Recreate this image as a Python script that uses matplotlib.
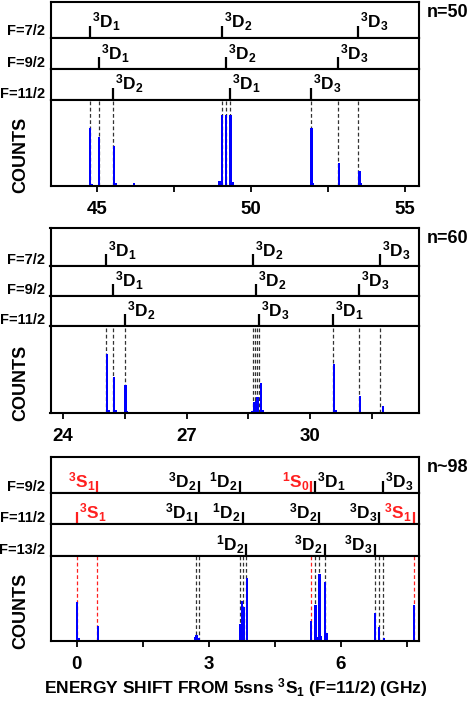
import matplotlib
matplotlib.use('Agg')
import matplotlib.pyplot as plt
from matplotlib.transforms import offset_copy

plt.rcParams['font.family'] = ['Liberation Sans', 'DejaVu Sans']
plt.rcParams['font.weight'] = 'bold'
plt.rcParams['mathtext.fontset'] = 'custom'
plt.rcParams['mathtext.bf'] = 'Liberation Sans:bold'
plt.rcParams['mathtext.rm'] = 'Liberation Sans:bold'
plt.rcParams['mathtext.it'] = 'Liberation Sans:bold'
plt.rcParams['mathtext.default'] = 'bf'

# ---------------- DATA ----------------
# n = 50
n50_rows = ['F=7/2', 'F=9/2', 'F=11/2']
n50_level_names = [['3D1', '3D2', '3D3'],
                   ['3D1', '3D2', '3D3'],
                   ['3D2', '3D1', '3D3']]
n50_level_pos = [[44.78, 49.05, 53.48],
                 [45.07, 49.18, 52.82],
                 [45.53, 49.33, 51.94]]
n50_level_side = [['r', 'r', 'r'], ['r', 'r', 'r'], ['r', 'r', 'r']]
n50_level_red = [[0, 0, 0], [0, 0, 0], [0, 0, 0]]
n50_dash_pos = [44.78, 45.07, 45.53, 49.05, 49.18, 49.33, 51.94, 52.82, 53.48]
n50_dash_red = [0, 0, 0, 0, 0, 0, 0, 0, 0]
n50_peak_pos = [44.79, 44.84, 45.08, 45.56, 45.61, 46.20, 48.98, 49.06, 49.19, 49.34, 49.41, 51.96, 52.01, 52.86, 53.52, 53.57]
n50_peak_h = [0.67, 0.02, 0.57, 0.47, 0.03, 0.03, 0.06, 0.82, 0.82, 0.82, 0.05, 0.68, 0.03, 0.27, 0.18, 0.04]
n50_major = [45, 50, 55]
n50_minor = [47.5, 52.5]
n50_xlim = (43.50, 55.45)

# n = 60
n60_rows = ['F=7/2', 'F=9/2', 'F=11/2']
n60_level_names = [['3D1', '3D2', '3D3'],
                   ['3D1', '3D2', '3D3'],
                   ['3D2', '3D3', '3D1']]
n60_level_pos = [[25.04, 28.62, 31.70],
                 [25.22, 28.69, 31.18],
                 [25.49, 28.76, 30.57]]
n60_level_side = [['r', 'r', 'r'], ['r', 'r', 'r'], ['r', 'r', 'r']]
n60_level_red = [[0, 0, 0], [0, 0, 0], [0, 0, 0]]
n60_dash_pos = [25.04, 25.22, 25.49, 28.61, 28.66, 28.71, 28.76, 30.57, 31.18, 31.70]
n60_dash_red = [0, 0, 0, 0, 0, 0, 0, 0, 0, 0]
n60_peak_pos = [25.06, 25.10, 25.24, 25.28, 25.51, 25.55, 28.60, 28.64, 28.68, 28.72, 28.81, 28.85, 30.59, 30.63, 31.21, 31.78]
n60_peak_h = [0.68, 0.03, 0.41, 0.03, 0.32, 0.02, 0.02, 0.13, 0.14, 0.18, 0.34, 0.03, 0.56, 0.03, 0.19, 0.08]
n60_major = [24, 27, 30]
n60_minor = [25.5, 28.5, 31.5]
n60_xlim = (23.69, 32.65)

# n ~ 98
n98_rows = ['F=9/2', 'F=11/2', 'F=13/2']
n98_level_names = [['3S1', '3D2', '1D2', '1S0', '3D1', '3D3'],
                   ['3S1', '3D1', '1D2', '3D2', '3D3', '3S1'],
                   ['1D2', '3D2', '3D3']]
n98_level_pos = [[0.47, 2.77, 3.70, 5.32, 5.42, 6.96],
                 [0.00, 2.70, 3.77, 5.51, 6.86, 7.65],
                 [3.85, 5.63, 6.76]]
n98_level_side = [['l', 'l', 'l', 'l', 'r', 'r'],
                  ['r', 'l', 'l', 'l', 'l', 'l'],
                  ['l', 'l', 'l']]
n98_level_red = [[1, 0, 0, 1, 0, 0],
                 [1, 0, 0, 0, 0, 1],
                 [0, 0, 0]]
n98_dash_pos = [0.00, 0.47, 2.70, 2.77, 3.70, 3.77, 3.85, 5.32, 5.42, 5.51, 5.63, 6.76, 6.86, 6.96, 7.65]
n98_dash_red = [1, 1, 0, 0, 0, 0, 0, 1, 0, 0, 0, 0, 0, 0, 1]
n98_peak_pos = [0.01, 0.05, 0.48, 2.69, 2.72, 2.78, 3.70, 3.75, 3.79, 3.86, 5.32, 5.42, 5.46, 5.51, 5.55, 5.64, 5.68, 6.77, 6.87, 6.97, 7.65]
n98_peak_h = [0.46, 0.04, 0.18, 0.05, 0.07, 0.04, 0.20, 0.47, 0.40, 0.74, 0.24, 0.42, 0.05, 0.79, 0.06, 0.70, 0.10, 0.33, 0.17, 0.03, 0.42]
n98_major = [0, 3, 6]
n98_minor = [1.5, 4.5, 7.5]
n98_xlim = (-0.594, 7.77)

n_labels = ['n=50', 'n=60', 'n~98']
xlabel_text = r'ENERGY SHIFT FROM 5sns $^{3}$S$_{1}$ (F=11/2) (GHz)'

# ---------------- LAYOUT ----------------
W, H = 469, 704
L, R = 50.5, 419.0
BLUE = '#0000ff'
RED = '#ff2020'

fig = plt.figure(figsize=(W / 100, H / 100), dpi=100)


def add_ax(y_top, y_bot):
    return fig.add_axes([L / W, 1 - y_bot / H, (R - L) / W, (y_bot - y_top) / H])


def term(name):
    return r'$^{%s}%s_{%s}$' % (name[0], name[1], name[2])


panels = [
    dict(rows=n50_rows, names=n50_level_names, pos=n50_level_pos, side=n50_level_side,
         red=n50_level_red, dpos=n50_dash_pos, dred=n50_dash_red, ppos=n50_peak_pos,
         ph=n50_peak_h, major=n50_major, minor=n50_minor, xlim=n50_xlim,
         ys=[2, 37.7, 69.3, 100, 186], base=10, width=0.075, nlab=n_labels[0], ny=12.5, cy=155),
    dict(rows=n60_rows, names=n60_level_names, pos=n60_level_pos, side=n60_level_side,
         red=n60_level_red, dpos=n60_dash_pos, dred=n60_dash_red, ppos=n60_peak_pos,
         ph=n60_peak_h, major=n60_major, minor=n60_minor, xlim=n60_xlim,
         ys=[227.7, 266, 296, 326, 413], base=9.5, width=0.058, nlab=n_labels[1], ny=238, cy=383),
    dict(rows=n98_rows, names=n98_level_names, pos=n98_level_pos, side=n98_level_side,
         red=n98_level_red, dpos=n98_dash_pos, dred=n98_dash_red, ppos=n98_peak_pos,
         ph=n98_peak_h, major=n98_major, minor=n98_minor, xlim=n98_xlim,
         ys=[457, 493.3, 524.3, 556, 641], base=5.5, width=0.052, nlab=n_labels[2], ny=468, cy=611),
]

SPINE_LW = 1.5

for P in panels:
    ys = P['ys']
    # level strips
    for i, row in enumerate(P['rows']):
        ax = add_ax(ys[i], ys[i + 1])
        ax.set_xlim(*P['xlim'])
        ax.set_ylim(0, 1)
        ax.set_xticks([])
        ax.set_yticks([])
        for s in ax.spines.values():
            s.set_linewidth(SPINE_LW)
        hpx = ys[i + 1] - ys[i]
        trx = ax.get_xaxis_transform()
        for nm, x, sd, rd in zip(P['names'][i], P['pos'][i], P['side'][i], P['red'][i]):
            c = RED if rd else 'black'
            ax.plot([x, x], [0, 12.0 / hpx], color=c, lw=1.6, transform=trx,
                    solid_capstyle='butt', clip_on=False)
            dx = 2.0 if sd == 'r' else -2.0
            ax.text(x, 0, term(nm), color=c, fontsize=12.5,
                    ha='left' if sd == 'r' else 'right', va='baseline',
                    transform=offset_copy(trx, fig=fig, x=dx, y=P['base'], units='dots'))
        ax.text(0, 0, row, fontsize=10.5, ha='right', va='baseline',
                transform=offset_copy(ax.transAxes, fig=fig, x=-5, y=2.5, units='dots'))
    # counts panel
    ax = add_ax(ys[3], ys[4])
    ax.set_xlim(*P['xlim'])
    ax.set_ylim(0, 1)
    for s in ax.spines.values():
        s.set_linewidth(SPINE_LW)
    dcols = [RED if r else '#333333' for r in P['dred']]
    ax.vlines(P['dpos'], 0, 1, colors=dcols, linestyles=(0, (3, 2)), lw=0.9, zorder=1)
    ax.bar(P['ppos'], P['ph'], width=P['width'], color=BLUE, lw=0, zorder=2)
    ax.set_xticks(P['major'])
    ax.set_xticklabels([str(v) for v in P['major']])
    ax.set_xticks(P['minor'], minor=True)
    ax.set_yticks([])
    ax.tick_params(axis='x', which='both', direction='out', length=4, width=1.3,
                   labelsize=13.5, pad=7)
    fig.text(20.5 / W, 1 - P['cy'] / H, 'COUNTS', rotation=90, ha='center', va='center',
             fontsize=13)
    fig.text(427 / W, 1 - P['ny'] / H, P['nlab'], ha='left', va='center', fontsize=13)

fig.text(236 / W, 1 - 688 / H, xlabel_text, ha='center', va='center', fontsize=12.5)

fig.savefig('out.png', dpi=100)
